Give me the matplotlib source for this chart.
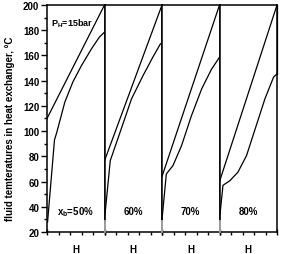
import matplotlib
matplotlib.use("Agg")
import matplotlib.pyplot as plt
from matplotlib.ticker import FixedLocator, MultipleLocator

plt.rcParams['font.family'] = ['Liberation Sans', 'DejaVu Sans']
plt.rcParams['font.weight'] = 'bold'
plt.rcParams['mathtext.fontset'] = 'custom'
plt.rcParams['mathtext.rm'] = 'Liberation Sans:bold'
plt.rcParams['mathtext.it'] = 'Liberation Sans:bold'
plt.rcParams['mathtext.default'] = 'rm'

# concentration labels for the four panels
labels = ["x$_{b}$=50%", "60%", "70%", "80%"]

# hot side (straight lines), H fraction -> temperature
hot_h = [[0, 1], [0, 1], [0, 1], [0, 1]]
hot_t = [[110, 200], [76.5, 200], [64, 200], [60, 200]]

# cold side (preheat + boiling glide)
cold_h = [
    [0.01, 0.13, 0.17, 0.31, 0.45, 0.60, 0.77, 0.91, 1.0],
    [0, 0.10, 0.27, 0.47, 0.67, 0.84, 0.97, 1.0],
    [0, 0.075, 0.19, 0.34, 0.51, 0.69, 0.86, 1.0],
    [0, 0.06, 0.18, 0.32, 0.47, 0.62, 0.79, 0.94, 1.0],
]
cold_t = [
    [28, 93, 99, 123, 139, 152, 165, 174.5, 178.5],
    [30, 76.6, 99, 125.6, 144, 158.6, 169, 170],
    [30, 66, 72.6, 88.5, 112, 133.5, 149, 158.6],
    [30, 57, 60.7, 67.4, 80.6, 101.7, 125.6, 142.8, 145.4],
]

fig = plt.figure(figsize=(2.81, 2.55), dpi=100)
axes = fig.subplots(1, 4, sharey=True)
fig.subplots_adjust(left=0.1673, right=0.9858, bottom=0.0863, top=0.9765, wspace=0)

for i, ax in enumerate(axes):
    ax.plot(hot_h[i], hot_t[i], color='black', lw=0.9)
    ax.plot(cold_h[i], cold_t[i], color='black', lw=0.9)
    # vertical closing line at the right edge
    ax.plot([1, 1], [cold_t[i][-1], 200], color='black', lw=0.9, clip_on=False)
    if i > 0:
        ax.plot([0, 0], [20, 29], color='#aaaaaa', lw=1.3, clip_on=False, zorder=5)
    ax.set_xlim(0, 1)
    ax.set_ylim(20, 200)
    for s in ax.spines.values():
        s.set_linewidth(1.1)
    ax.xaxis.set_major_locator(FixedLocator([0, 1]))
    ax.xaxis.set_minor_locator(FixedLocator([0.2, 0.4, 0.6, 0.8]))
    ax.tick_params(axis='x', which='major', direction='inout', length=5, width=1.0, labelbottom=False, top=False)
    ax.tick_params(axis='x', which='minor', direction='out', length=2.5, width=1.0, top=False)
    ax.set_xlabel("H", fontsize=7, fontweight='bold', labelpad=2.5)
    ax.text(0.5, 36.5, labels[i], ha='center', va='center', fontsize=7, fontweight='bold')
    if i == 0:
        ax.yaxis.set_major_locator(MultipleLocator(20))
        ax.yaxis.set_minor_locator(MultipleLocator(10))
        ax.tick_params(axis='y', which='major', direction='out', length=4, width=1.0, labelsize=7, pad=1.5)
        ax.tick_params(axis='y', which='minor', direction='out', length=2.5, width=1.0)
        for t in ax.get_yticklabels():
            t.set_fontweight('bold')
    else:
        ax.tick_params(axis='y', which='both', left=False, right=False)

axes[0].text(0.065, 186, "P$_{H}$=15bar", ha='left', va='center', fontsize=6.5, fontweight='bold')

fig.text(0.036, 0.496, "fluid temteratures in heat exchanger, °C", rotation=90,
         ha='center', va='center', fontsize=7, fontweight='bold')

fig.savefig("out.png", dpi=100)
